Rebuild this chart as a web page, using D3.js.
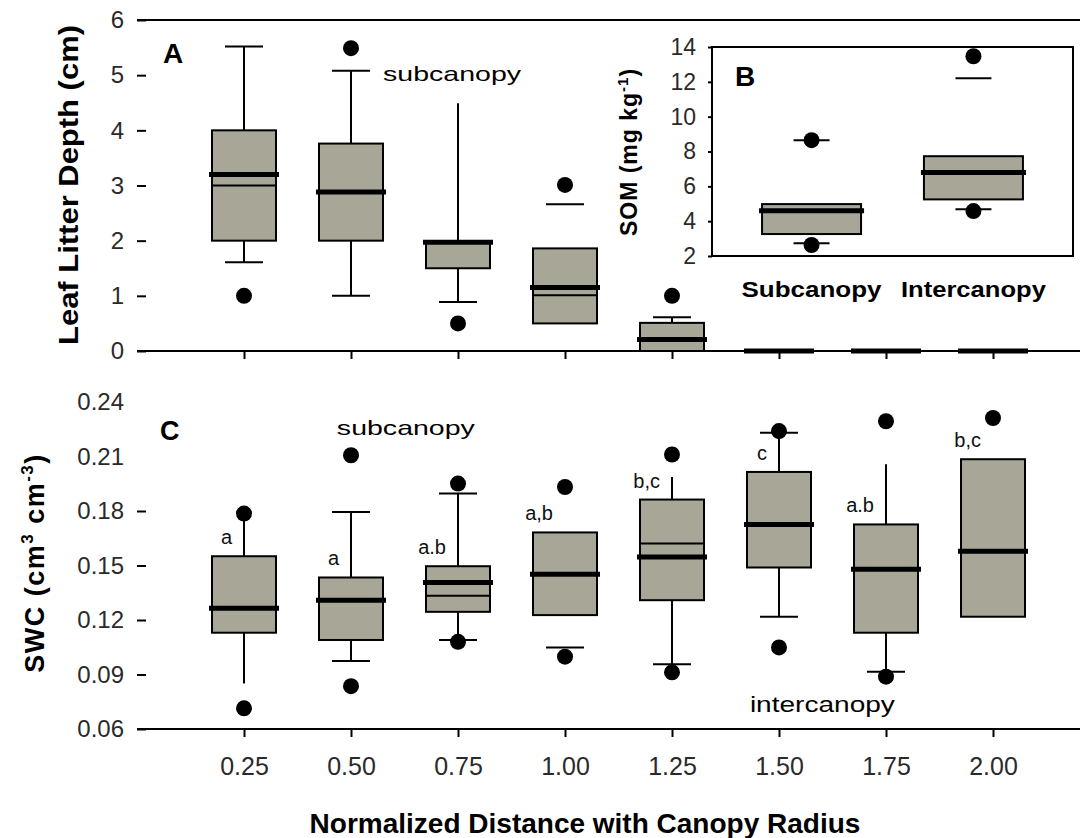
<!DOCTYPE html>
<html>
<head>
<meta charset="utf-8">
<script src="https://cdn.jsdelivr.net/npm/d3@7"></script>
<style>
  body { margin: 0; background: #fff; }
  svg { display: block; font-family: "Liberation Sans", Arial, sans-serif; }
</style>
</head>
<body>
<div id="chart"></div>
<script>
// normalized distance classes
const distances = [0.25, 0.5, 0.75, 1.0, 1.25, 1.5, 1.75, 2.0];

// A: leaf litter depth (cm)
const litterQ1 = [2.0, 2.0, 1.5, 0.5, 0, 0, 0, 0];
const litterQ3 = [4.0, 3.76, 1.97, 1.86, 0.51, 0, 0, 0];
const litterMedian = [3.2, 2.88, 1.97, 1.15, 0.21, 0, 0, 0];
const litterMean = [3.0, null, null, 1.01, null, null, null, null];
const litterWhiskerHi = [5.52, 5.08, 4.49, null, 0.61, null, null, null];
const litterCapHi = [5.52, 5.08, null, 2.66, 0.61, null, null, null];
const litterWhiskerLo = [1.61, 1.0, 0.89, null, null, null, null, null];
const litterCapLo = [1.61, 1.0, 0.89, null, null, null, null, null];
const litterOutHi = [null, 5.49, null, 3.01, 1.0, null, null, null];
const litterOutLo = [1.0, null, 0.5, null, null, null, null, null];

// C: soil water content (cm3 cm-3)
const swcQ1 = [0.113, 0.109, 0.1245, 0.1227, 0.1309, 0.1489, 0.113, 0.1218];
const swcQ3 = [0.1551, 0.1434, 0.1496, 0.1682, 0.1863, 0.2015, 0.1726, 0.2085];
const swcMedian = [0.1264, 0.1309, 0.1407, 0.1452, 0.1547, 0.1726, 0.148, 0.1579];
const swcMean = [null, null, 0.1333, null, 0.1621, null, null, null];
const swcWhiskerHi = [0.1786, 0.1795, 0.1896, null, 0.1987, 0.2231, 0.2057, null];
const swcCapHi = [null, 0.1795, 0.1896, null, null, 0.2231, null, null];
const swcWhiskerLo = [0.0851, 0.0974, 0.109, null, 0.0957, 0.1218, 0.0915, null];
const swcCapLo = [null, 0.0974, 0.109, 0.1049, 0.0957, 0.1218, 0.0915, null];
const swcOutHi = [0.1786, 0.2107, 0.1951, 0.1932, 0.2111, 0.224, 0.2294, 0.2312];
const swcOutLo = [0.0714, 0.0836, 0.108, 0.0998, 0.0912, 0.1049, 0.0888, null];
const swcGroups = ["a", "a", "a.b", "a,b", "b,c", "c", "a.b", "b,c"];

// B: soil organic matter (mg kg-1)
const somSites = ["Subcanopy", "Intercanopy"];
const somQ1 = [3.26, 5.25];
const somQ3 = [4.98, 7.73];
const somMedian = [4.6, 6.8];
const somCapHi = [8.65, 12.2];
const somCapLo = [2.73, 4.68];
const somOutHi = [8.65, 13.47];
const somOutLo = [2.63, 4.58];

const litterTicks = [0, 1, 2, 3, 4, 5, 6];
const swcTicks = [0.06, 0.09, 0.12, 0.15, 0.18, 0.21, 0.24];
const somTicks = [2, 4, 6, 8, 10, 12, 14];

const W = 1080, H = 838;
const fill = "#a8a797";

const svg = d3.select("#chart").append("svg")
    .attr("width", W)
    .attr("height", H);

const x = d3.scaleLinear().domain([0, 2.25]).range([137, 1100]);
const yA = d3.scaleLinear().domain([0, 6]).range([351, 20]);
const yC = d3.scaleLinear().domain([0.06, 0.24]).range([729, 402]);
const xB = d3.scalePoint().domain(somSites).range([712, 1073]).padding(0.615);
const yB = d3.scaleLinear().domain([2, 14]).range([256, 47]);

// generic box drawer
function drawBoxes(g, n, cx, y, s, boxW, capW) {
  for (let i = 0; i < n; i++) {
    const c = cx(i);
    const b = g.append("g");
    if (s.whiskerHi[i] != null)
      b.append("line").attr("x1", c).attr("x2", c)
        .attr("y1", y(s.q3[i])).attr("y2", y(s.whiskerHi[i]))
        .attr("stroke", "#000").attr("stroke-width", 2);
    if (s.whiskerLo[i] != null)
      b.append("line").attr("x1", c).attr("x2", c)
        .attr("y1", y(s.q1[i])).attr("y2", y(s.whiskerLo[i]))
        .attr("stroke", "#000").attr("stroke-width", 2);
    [s.capHi[i], s.capLo[i]].forEach(v => {
      if (v == null) return;
      b.append("line").attr("x1", c - capW / 2).attr("x2", c + capW / 2)
        .attr("y1", y(v)).attr("y2", y(v))
        .attr("stroke", "#000").attr("stroke-width", 2);
    });
    b.append("rect")
      .attr("x", c - boxW / 2).attr("width", boxW)
      .attr("y", y(s.q3[i])).attr("height", y(s.q1[i]) - y(s.q3[i]))
      .attr("fill", fill).attr("stroke", "#000").attr("stroke-width", 2);
    if (s.mean[i] != null)
      b.append("line").attr("x1", c - boxW / 2).attr("x2", c + boxW / 2)
        .attr("y1", y(s.mean[i])).attr("y2", y(s.mean[i]))
        .attr("stroke", "#000").attr("stroke-width", 2);
    b.append("line").attr("x1", c - boxW / 2 - 3).attr("x2", c + boxW / 2 + 3)
      .attr("y1", y(s.median[i])).attr("y2", y(s.median[i]))
      .attr("stroke", "#000").attr("stroke-width", 5);
    [s.outHi[i], s.outLo[i]].forEach(v => {
      if (v == null) return;
      b.append("circle").attr("cx", c).attr("cy", y(v)).attr("r", 8).attr("fill", "#000");
    });
  }
}

function styleAxis(g, size) {
  g.select(".domain").remove();
  g.selectAll(".tick line").attr("stroke", "#000").attr("stroke-width", 2);
  g.selectAll(".tick text").attr("font-size", size).attr("fill", "#2a2a2a")
    .attr("font-family", "'Liberation Sans', Arial, sans-serif");
}

// ---------- panel A ----------
const gA = svg.append("g");
gA.append("line").attr("x1", 137).attr("x2", W).attr("y1", yA(6)).attr("y2", yA(6))
  .attr("stroke", "#000").attr("stroke-width", 2);
gA.append("line").attr("x1", 137).attr("x2", W).attr("y1", yA(0)).attr("y2", yA(0))
  .attr("stroke", "#000").attr("stroke-width", 2);

const axA = gA.append("g").attr("transform", "translate(137,0)")
  .call(d3.axisLeft(yA).tickValues(litterTicks).tickFormat(d3.format("d"))
    .tickSizeInner(-9).tickSizeOuter(0).tickPadding(13));
styleAxis(axA, 24);

const axAx = gA.append("g").attr("transform", `translate(0,${yA(0)})`)
  .call(d3.axisBottom(x).tickValues(distances).tickFormat("").tickSize(8));
styleAxis(axAx, 24);

drawBoxes(gA, distances.length, i => x(distances[i]), yA, {
  q1: litterQ1, q3: litterQ3, median: litterMedian, mean: litterMean,
  whiskerHi: litterWhiskerHi, whiskerLo: litterWhiskerLo,
  capHi: litterCapHi, capLo: litterCapLo, outHi: litterOutHi, outLo: litterOutLo
}, 64, 38);

gA.append("text").attr("x", 163).attr("y", 63).attr("font-size", 28)
  .attr("font-weight", "bold").text("A");
gA.append("text").attr("x", x(0.575)).attr("y", yA(4.9)).attr("font-size", 21)
  .attr("textLength", 138).attr("lengthAdjust", "spacingAndGlyphs").text("subcanopy");
gA.append("text").attr("transform", "translate(78,185) rotate(-90)")
  .attr("text-anchor", "middle").attr("font-size", 28).attr("font-weight", "bold")
  .attr("textLength", 320).attr("lengthAdjust", "spacingAndGlyphs")
  .text("Leaf Litter Depth (cm)");

// ---------- inset B ----------
const gB = svg.append("g");
gB.append("rect").attr("x", 712).attr("y", yB(14)).attr("width", 1073 - 712)
  .attr("height", yB(2) - yB(14)).attr("fill", "#fff")
  .attr("stroke", "#000").attr("stroke-width", 2);
const axB = gB.append("g").attr("transform", "translate(712,0)")
  .call(d3.axisLeft(yB).tickValues(somTicks).tickSize(4).tickPadding(12));
styleAxis(axB, 23);

drawBoxes(gB, somSites.length, i => xB(somSites[i]), yB, {
  q1: somQ1, q3: somQ3, median: somMedian, mean: [null, null],
  whiskerHi: [null, null], whiskerLo: [null, null],
  capHi: somCapHi, capLo: somCapLo, outHi: somOutHi, outLo: somOutLo
}, 99, 36);

gB.append("text").attr("x", 735).attr("y", 86).attr("font-size", 28)
  .attr("font-weight", "bold").text("B");
gB.selectAll(".site").data(somSites).join("text")
  .attr("x", d => xB(d)).attr("y", 297).attr("text-anchor", "middle")
  .attr("font-size", 22).attr("font-weight", "bold")
  .attr("textLength", d => d === "Subcanopy" ? 140 : 145).attr("lengthAdjust", "spacingAndGlyphs")
  .text(d => d);
const somLabel = gB.append("text").attr("transform", "translate(637,152) rotate(-90)")
  .attr("text-anchor", "middle").attr("font-size", 23).attr("font-weight", "bold")
  .attr("letter-spacing", 1);
somLabel.append("tspan").text("SOM (mg kg");
somLabel.append("tspan").attr("font-size", 15).attr("dy", -9).text("-1");
somLabel.append("tspan").attr("dy", 9).text(")");

// ---------- panel C ----------
const gC = svg.append("g");
gC.append("line").attr("x1", 137).attr("x2", W).attr("y1", yC(0.06)).attr("y2", yC(0.06))
  .attr("stroke", "#000").attr("stroke-width", 2);

const axC = gC.append("g").attr("transform", "translate(137,0)")
  .call(d3.axisLeft(yC).tickValues(swcTicks).tickFormat(d3.format(".2f"))
    .tickSizeInner(-9).tickSizeOuter(0).tickPadding(13));
styleAxis(axC, 24);
axC.selectAll(".tick").filter(d => d > 0.2).select("line").remove();

const axCx = gC.append("g").attr("transform", `translate(0,${yC(0.06)})`)
  .call(d3.axisBottom(x).tickValues(distances).tickFormat(d3.format(".2f"))
    .tickSize(8).tickPadding(20));
styleAxis(axCx, 25);

drawBoxes(gC, distances.length, i => x(distances[i]), yC, {
  q1: swcQ1, q3: swcQ3, median: swcMedian, mean: swcMean,
  whiskerHi: swcWhiskerHi, whiskerLo: swcWhiskerLo,
  capHi: swcCapHi, capLo: swcCapLo, outHi: swcOutHi, outLo: swcOutLo
}, 64, 38);

gC.selectAll(".grp").data(swcGroups).join("text")
  .attr("x", (d, i) => x(distances[i]) - 12)
  .attr("y", (d, i) => yC(swcQ3[i]) - 12)
  .attr("text-anchor", "end").attr("font-size", 20).attr("fill", "#111")
  .text(d => d);

gC.append("text").attr("x", 160).attr("y", 440).attr("font-size", 27)
  .attr("font-weight", "bold").text("C");
gC.append("text").attr("x", x(0.467)).attr("y", yC(0.2217)).attr("font-size", 21)
  .attr("textLength", 138).attr("lengthAdjust", "spacingAndGlyphs").text("subcanopy");
gC.append("text").attr("x", x(1.432)).attr("y", yC(0.0693)).attr("font-size", 22)
  .attr("textLength", 145).attr("lengthAdjust", "spacingAndGlyphs").text("intercanopy");

const swcLabel = gC.append("text").attr("transform", "translate(44,563) rotate(-90)")
  .attr("text-anchor", "middle").attr("font-size", 27).attr("font-weight", "bold")
  .attr("letter-spacing", 1.5);
swcLabel.append("tspan").text("SWC (cm");
swcLabel.append("tspan").attr("font-size", 17).attr("dy", -11).text("3");
swcLabel.append("tspan").attr("dy", 11).text(" cm");
swcLabel.append("tspan").attr("font-size", 17).attr("dy", -11).text("-3");
swcLabel.append("tspan").attr("dy", 11).text(")");

// shared x title
svg.append("text").attr("x", 585).attr("y", 833).attr("text-anchor", "middle")
  .attr("font-size", 28).attr("font-weight", "bold")
  .text("Normalized Distance with Canopy Radius");
</script>
</body>
</html>
